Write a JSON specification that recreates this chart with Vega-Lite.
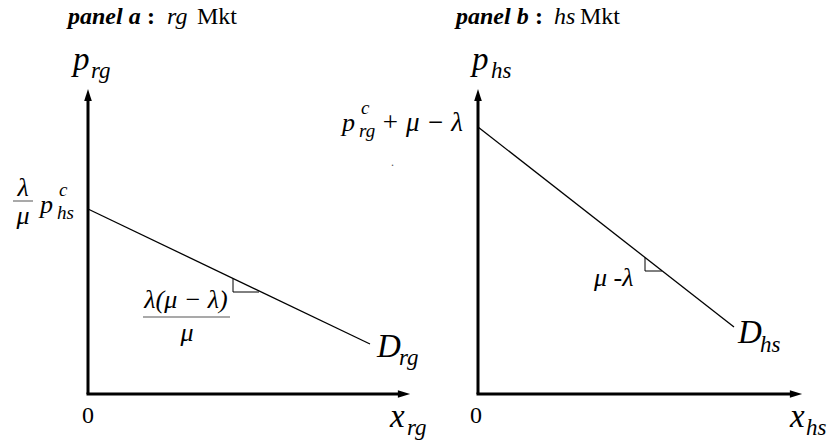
{
  "$schema": "https://vega.github.io/schema/vega-lite/v6.json",
  "description": "Two linear demand diagrams: the rg market and the hs market.",
  "width": 830,
  "height": 445,
  "autosize": "none",
  "padding": 0,
  "config": {"view": {"stroke": null}, "font": "Liberation Serif", "text": {"font": "Liberation Serif", "color": "black"}},
  "datasets": {
    "axes": [
      {"panel": "a", "axis": "price", "x": 88, "y": 394, "x2": 88, "y2": 100},
      {"panel": "a", "axis": "quantity", "x": 86.5, "y": 394, "x2": 398, "y2": 394},
      {"panel": "b", "axis": "price", "x": 478, "y": 394, "x2": 478, "y2": 100},
      {"panel": "b", "axis": "quantity", "x": 476.5, "y": 394, "x2": 790, "y2": 394}
    ],
    "heads": [
      {"panel": "a", "dir": "up", "x": 88, "y": 95},
      {"panel": "a", "dir": "right", "x": 404, "y": 394},
      {"panel": "b", "dir": "up", "x": 478, "y": 95},
      {"panel": "b", "dir": "right", "x": 796, "y": 394}
    ],
    "demand": [
      {"panel": "a", "x": 88, "y": 209, "x2": 370, "y2": 344},
      {"panel": "b", "x": 478, "y": 127, "x2": 734, "y2": 327}
    ],
    "slope": [
      {"panel": "a", "step": 1, "x": 233, "y": 278.5},
      {"panel": "a", "step": 2, "x": 233, "y": 292},
      {"panel": "a", "step": 3, "x": 259, "y": 292},
      {"panel": "b", "step": 1, "x": 645, "y": 257.5},
      {"panel": "b", "step": 2, "x": 645, "y": 271},
      {"panel": "b", "step": 3, "x": 662, "y": 271}
    ],
    "bars": [
      {"label": "intercept a", "x": 13, "x2": 33, "y": 201},
      {"label": "slope a", "x": 143, "x2": 230, "y": 317}
    ],
    "labels": [
      {"kind": "titleBold", "text": "panel a", "x": 68, "y": 24},
      {"kind": "titleColon", "text": ":", "x": 147, "y": 24},
      {"kind": "titleItalic", "text": "rg", "x": 167, "y": 24},
      {"kind": "titlePlain", "text": "Mkt", "x": 197, "y": 24},
      {"kind": "titleBold", "text": "panel b", "x": 456, "y": 24},
      {"kind": "titleColon", "text": ":", "x": 535, "y": 24},
      {"kind": "titleItalic", "text": "hs", "x": 554, "y": 24},
      {"kind": "titlePlain", "text": "Mkt", "x": 580, "y": 24},

      {"kind": "bigVar", "text": "p", "x": 73, "y": 70},
      {"kind": "bigSub", "text": "rg", "x": 91, "y": 78},
      {"kind": "bigVar", "text": "p", "x": 472, "y": 70},
      {"kind": "bigSub", "text": "hs", "x": 491, "y": 78},
      {"kind": "bigVar", "text": "x", "x": 390, "y": 427},
      {"kind": "bigSub", "text": "rg", "x": 407, "y": 435},
      {"kind": "bigVar", "text": "x", "x": 790, "y": 427},
      {"kind": "bigSub", "text": "hs", "x": 806, "y": 435},
      {"kind": "bigVar", "text": "D", "x": 377, "y": 357},
      {"kind": "bigSub", "text": "rg", "x": 399, "y": 365},
      {"kind": "bigVar", "text": "D", "x": 738, "y": 343},
      {"kind": "bigSub", "text": "hs", "x": 760, "y": 352},

      {"kind": "zero", "text": "0", "x": 82, "y": 423},
      {"kind": "zero", "text": "0", "x": 470, "y": 423},

      {"kind": "mathCenter", "text": "λ", "x": 23, "y": 196},
      {"kind": "mathCenter", "text": "μ", "x": 23, "y": 224},
      {"kind": "math", "text": "p", "x": 40, "y": 213},
      {"kind": "mathSmall", "text": "c", "x": 59, "y": 196},
      {"kind": "mathSmall", "text": "hs", "x": 57, "y": 219},

      {"kind": "mathCenter", "text": "λ(μ − λ)", "x": 186, "y": 308},
      {"kind": "mathCenter", "text": "μ", "x": 187, "y": 341},

      {"kind": "math", "text": "p", "x": 342, "y": 131},
      {"kind": "mathSmall", "text": "c", "x": 361, "y": 114},
      {"kind": "mathSmall", "text": "rg", "x": 359, "y": 137},
      {"kind": "mathRight", "text": "+ μ − λ", "x": 463, "y": 131},

      {"kind": "math", "text": "μ -λ", "x": 594, "y": 286},

      {"kind": "speck", "text": ".", "x": 391, "y": 166}
    ]
  },
  "layer": [
    {
      "data": {"name": "axes"},
      "mark": {"type": "rule", "strokeWidth": 3, "color": "black"},
      "encoding": {
        "x": {"field": "x", "type": "quantitative", "scale": {"domain": [0, 830], "nice": false, "zero": false}, "axis": null},
        "y": {"field": "y", "type": "quantitative", "scale": {"domain": [0, 445], "nice": false, "zero": false, "reverse": true}, "axis": null},
        "x2": {"field": "x2"},
        "y2": {"field": "y2"}
      }
    },
    {
      "data": {"name": "heads"},
      "mark": {"type": "point", "filled": true, "opacity": 1, "color": "black", "size": 150},
      "encoding": {
        "x": {"field": "x", "type": "quantitative"},
        "y": {"field": "y", "type": "quantitative"},
        "shape": {
          "field": "dir",
          "type": "nominal",
          "scale": {"domain": ["up", "right"], "range": ["M0,-1L0.62,1L-0.62,1Z", "M1,0L-1,0.62L-1,-0.62Z"]},
          "legend": null
        }
      }
    },
    {
      "data": {"name": "demand"},
      "mark": {"type": "rule", "strokeWidth": 1.3, "color": "black"},
      "encoding": {
        "x": {"field": "x", "type": "quantitative"},
        "y": {"field": "y", "type": "quantitative"},
        "x2": {"field": "x2"},
        "y2": {"field": "y2"}
      }
    },
    {
      "data": {"name": "slope"},
      "mark": {"type": "line", "strokeWidth": 1, "color": "black"},
      "encoding": {
        "x": {"field": "x", "type": "quantitative"},
        "y": {"field": "y", "type": "quantitative"},
        "detail": {"field": "panel"},
        "order": {"field": "step"}
      }
    },
    {
      "data": {"name": "bars"},
      "mark": {"type": "rule", "strokeWidth": 1.5, "color": "#8c8c8c"},
      "encoding": {
        "x": {"field": "x", "type": "quantitative"},
        "x2": {"field": "x2"},
        "y": {"field": "y", "type": "quantitative"}
      }
    },
    {
      "data": {"name": "labels"},
      "transform": [{"filter": "datum.kind === 'titleBold'"}],
      "mark": {"type": "text", "font": "Liberation Serif", "align": "left", "baseline": "alphabetic", "fontSize": 24, "fontWeight": "bold", "fontStyle": "italic"},
      "encoding": {"x": {"field": "x", "type": "quantitative"}, "y": {"field": "y", "type": "quantitative"}, "text": {"field": "text"}}
    },
    {
      "data": {"name": "labels"},
      "transform": [{"filter": "datum.kind === 'titleColon'"}],
      "mark": {"type": "text", "font": "Liberation Serif", "align": "left", "baseline": "alphabetic", "fontSize": 24, "fontWeight": "bold"},
      "encoding": {"x": {"field": "x", "type": "quantitative"}, "y": {"field": "y", "type": "quantitative"}, "text": {"field": "text"}}
    },
    {
      "data": {"name": "labels"},
      "transform": [{"filter": "datum.kind === 'titleItalic'"}],
      "mark": {"type": "text", "font": "Liberation Serif", "align": "left", "baseline": "alphabetic", "fontSize": 24, "fontStyle": "italic"},
      "encoding": {"x": {"field": "x", "type": "quantitative"}, "y": {"field": "y", "type": "quantitative"}, "text": {"field": "text"}}
    },
    {
      "data": {"name": "labels"},
      "transform": [{"filter": "datum.kind === 'titlePlain'"}],
      "mark": {"type": "text", "font": "Liberation Serif", "align": "left", "baseline": "alphabetic", "fontSize": 24},
      "encoding": {"x": {"field": "x", "type": "quantitative"}, "y": {"field": "y", "type": "quantitative"}, "text": {"field": "text"}}
    },
    {
      "data": {"name": "labels"},
      "transform": [{"filter": "datum.kind === 'bigVar'"}],
      "mark": {"type": "text", "font": "Liberation Serif", "align": "left", "baseline": "alphabetic", "fontSize": 33, "fontStyle": "italic"},
      "encoding": {"x": {"field": "x", "type": "quantitative"}, "y": {"field": "y", "type": "quantitative"}, "text": {"field": "text"}}
    },
    {
      "data": {"name": "labels"},
      "transform": [{"filter": "datum.kind === 'bigSub'"}],
      "mark": {"type": "text", "font": "Liberation Serif", "align": "left", "baseline": "alphabetic", "fontSize": 23, "fontStyle": "italic"},
      "encoding": {"x": {"field": "x", "type": "quantitative"}, "y": {"field": "y", "type": "quantitative"}, "text": {"field": "text"}}
    },
    {
      "data": {"name": "labels"},
      "transform": [{"filter": "datum.kind === 'zero'"}],
      "mark": {"type": "text", "font": "Liberation Serif", "align": "left", "baseline": "alphabetic", "fontSize": 24},
      "encoding": {"x": {"field": "x", "type": "quantitative"}, "y": {"field": "y", "type": "quantitative"}, "text": {"field": "text"}}
    },
    {
      "data": {"name": "labels"},
      "transform": [{"filter": "datum.kind === 'math'"}],
      "mark": {"type": "text", "font": "Liberation Serif", "align": "left", "baseline": "alphabetic", "fontSize": 26, "fontStyle": "italic"},
      "encoding": {"x": {"field": "x", "type": "quantitative"}, "y": {"field": "y", "type": "quantitative"}, "text": {"field": "text"}}
    },
    {
      "data": {"name": "labels"},
      "transform": [{"filter": "datum.kind === 'mathRight'"}],
      "mark": {"type": "text", "font": "Liberation Serif", "align": "right", "baseline": "alphabetic", "fontSize": 27, "fontStyle": "italic"},
      "encoding": {"x": {"field": "x", "type": "quantitative"}, "y": {"field": "y", "type": "quantitative"}, "text": {"field": "text"}}
    },
    {
      "data": {"name": "labels"},
      "transform": [{"filter": "datum.kind === 'mathCenter'"}],
      "mark": {"type": "text", "font": "Liberation Serif", "align": "center", "baseline": "alphabetic", "fontSize": 26, "fontStyle": "italic"},
      "encoding": {"x": {"field": "x", "type": "quantitative"}, "y": {"field": "y", "type": "quantitative"}, "text": {"field": "text"}}
    },
    {
      "data": {"name": "labels"},
      "transform": [{"filter": "datum.kind === 'mathSmall'"}],
      "mark": {"type": "text", "font": "Liberation Serif", "align": "left", "baseline": "alphabetic", "fontSize": 19, "fontStyle": "italic"},
      "encoding": {"x": {"field": "x", "type": "quantitative"}, "y": {"field": "y", "type": "quantitative"}, "text": {"field": "text"}}
    },
    {
      "data": {"name": "labels"},
      "transform": [{"filter": "datum.kind === 'speck'"}],
      "mark": {"type": "text", "font": "Liberation Serif", "align": "left", "baseline": "alphabetic", "fontSize": 12, "color": "#555555"},
      "encoding": {"x": {"field": "x", "type": "quantitative"}, "y": {"field": "y", "type": "quantitative"}, "text": {"field": "text"}}
    }
  ]
}
